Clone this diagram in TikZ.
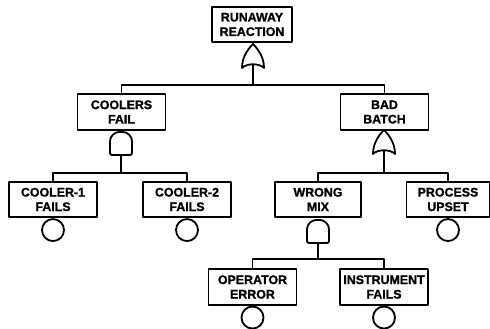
\documentclass[tikz,border=0pt]{standalone}
\usepackage{fontspec}
\setmainfont[BoldFeatures={FakeBold=1.2}]{Liberation Sans}
\usetikzlibrary{positioning, calc}

\begin{document}
\begin{tikzpicture}[
    x=1pt,
    y=-1pt,
    line width=1.8pt,
    line join=round,
    event/.style={
        draw,
        minimum width=88pt,
        minimum height=35.5pt,
        inner sep=0pt,
        align=center,
        font=\fontsize{12.4}{14.5}\selectfont\bfseries
    },
    basic/.style={
        draw,
        circle,
        minimum size=22pt,
        inner sep=0pt
    },
    wire/.style={line width=1.8pt},
    orgate/.pic={
        \draw (-11,0) .. controls (-6,-5) and (6,-5) .. (11,0)
            .. controls (11,-10) and (6,-18) .. (0,-24)
            .. controls (-6,-18) and (-11,-10) .. (-11,0) -- cycle;
        \coordinate (-base) at (0,-3);
    },
    andgate/.pic={
        \draw[rounded corners=2pt] (-11,0) -- (11,0) -- (11,-12)
            .. controls (11,-19) and (6,-23) .. (0,-23)
            .. controls (-6,-23) and (-11,-19) .. (-11,-12) -- cycle;
        \coordinate (-base) at (0,0);
    }
]
\useasboundingbox (0,0) rectangle (490,329);

% Top event
\node[event, minimum width=80pt] (runaway) at (252,24.5) {RUNAWAY\\REACTION};

% Second level
\node[event] (coolers) at (121.5,112) {COOLERS\\FAIL};
\node[event] (badbatch) at (384.5,112) {BAD\\BATCH};

% Third level
\node[event] (cooler1) at (53,199.5) {COOLER-1\\FAILS};
\node[event] (cooler2) at (187,199.5) {COOLER-2\\FAILS};
\node[event, minimum width=86pt] (wrongmix) at (318,199.5) {WRONG\\MIX};
\node[event, minimum width=83pt] (process) at (448,199.5) {PROCESS\\UPSET};

% Fourth level
\node[event] (operator) at (252.5,287) {OPERATOR\\ERROR};
\node[event] (instrument) at (384,287) {INSTRUMENT\\FAILS};

% Gates
\pic (topgate) at (253,68) {orgate};
\pic (coolgate) at (121,155) {andgate};
\pic (batchgate) at (384,154) {orgate};
\pic (mixgate) at (318,243) {andgate};

% Bus levels
\coordinate (topbus) at (253,85);
\coordinate (coolbus) at (121,173);
\coordinate (batchbus) at (384,173);
\coordinate (mixbus) at (318,259);

\draw[wire] (topgate-base) -- (topbus);
\draw[wire] (coolers.north) |- (topbus) -| (badbatch.north);

\draw[wire] (coolgate-base) -- (coolbus);
\draw[wire] (cooler1.north) |- (coolbus) -| (cooler2.north);

\draw[wire] (batchgate-base) -- (batchbus);
\draw[wire] (wrongmix.north) |- (batchbus) -| (process.north);

\draw[wire] (mixgate-base) -- (mixbus);
\draw[wire] (operator.north) |- (mixbus) -| (instrument.north);

% Basic events
\node[basic, below=0pt of cooler1] (c1) {};
\node[basic, below=0pt of cooler2] (c2) {};
\node[basic, below=0pt of process] (c3) {};
\node[basic, below=0pt of operator] (c4) {};
\node[basic, below=0pt of instrument] (c5) {};

\end{tikzpicture}
\end{document}
